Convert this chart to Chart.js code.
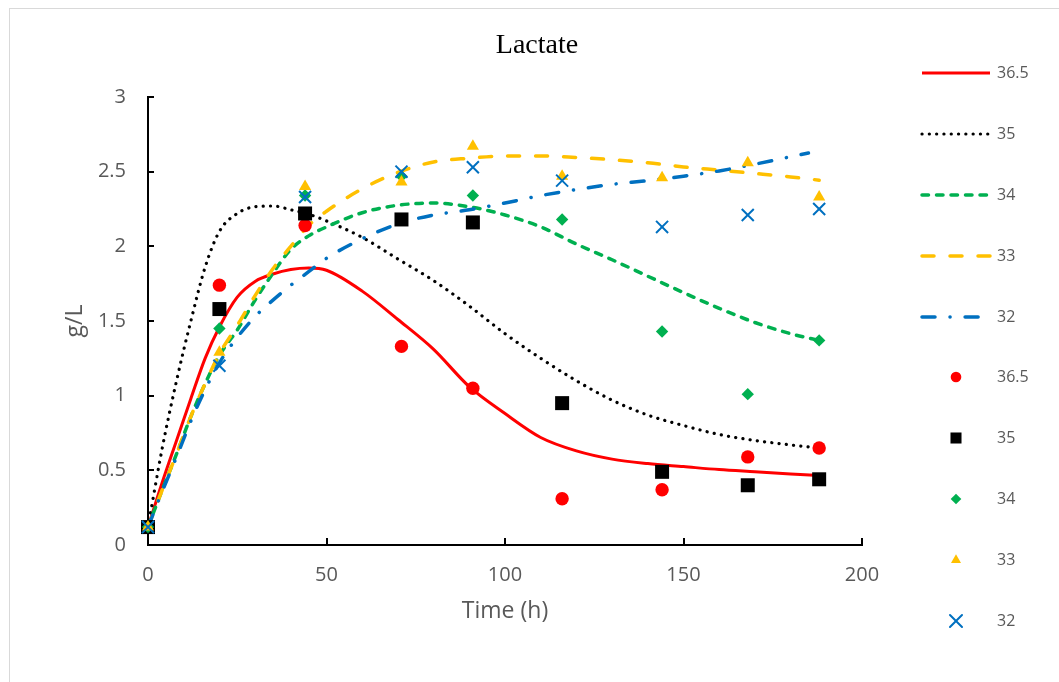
<!DOCTYPE html>
<html>
<head>
<meta charset="utf-8">
<script src="https://cdn.jsdelivr.net/npm/chart.js@4"></script>
<style>
  body { margin: 0; background: #fff; }
  canvas { display: block; }
</style>
</head>
<body>
<canvas id="lactateChart" width="1059" height="682"></canvas>
<script>
// measured lactate (g/L) per temperature
const hours = [0, 20, 44, 71, 91, 116, 144, 168, 188];
const lac365 = [0.12, 1.74, 2.14, 1.33, 1.05, 0.31, 0.37, 0.59, 0.65];
const lac35 = [0.12, 1.58, 2.22, 2.18, 2.16, 0.95, 0.49, 0.40, 0.44];
const lac34 = [0.12, 1.45, 2.34, 2.47, 2.34, 2.18, 1.43, 1.01, 1.37];
const lac33 = [0.12, 1.29, 2.40, 2.43, 2.67, 2.47, 2.46, 2.56, 2.33];
const lac32 = [0.12, 1.20, 2.33, 2.50, 2.53, 2.44, 2.13, 2.21, 2.25];

// model curves
const fitTime = [0, 4, 8, 12, 16, 20, 25, 30, 35, 40, 45, 50, 60, 70, 80, 90, 100, 110, 120, 130, 140, 150, 160, 170, 180, 188];
const fit365 = [0.12, 0.42, 0.70, 0.98, 1.25, 1.46, 1.66, 1.765, 1.815, 1.845, 1.855, 1.84, 1.70, 1.51, 1.31, 1.06, 0.88, 0.72, 0.63, 0.575, 0.545, 0.525, 0.505, 0.49, 0.475, 0.466];
const fit35 = [0.12, 0.65, 1.10, 1.50, 1.86, 2.10, 2.22, 2.265, 2.27, 2.245, 2.215, 2.17, 2.06, 1.915, 1.77, 1.60, 1.415, 1.25, 1.10, 0.97, 0.87, 0.80, 0.74, 0.70, 0.67, 0.65];
const fit34 = [0.12, 0.37, 0.61, 0.86, 1.08, 1.27, 1.44, 1.64, 1.82, 1.98, 2.07, 2.13, 2.225, 2.275, 2.29, 2.265, 2.21, 2.13, 2.015, 1.91, 1.80, 1.69, 1.585, 1.49, 1.415, 1.37];
const fit33 = [0.12, 0.37, 0.61, 0.86, 1.08, 1.28, 1.47, 1.67, 1.85, 2.00, 2.14, 2.235, 2.385, 2.495, 2.565, 2.59, 2.605, 2.605, 2.595, 2.58, 2.56, 2.532, 2.51, 2.488, 2.465, 2.443];
const fitTime32 = [0, 4, 8, 12, 16, 20, 25, 30, 35, 40, 45, 50, 60, 70, 80, 90, 100, 110, 120, 130, 140, 150, 160, 170, 180, 185];
const fit32 = [0.12, 0.36, 0.59, 0.83, 1.04, 1.22, 1.39, 1.53, 1.64, 1.74, 1.83, 1.92, 2.05, 2.15, 2.21, 2.245, 2.29, 2.34, 2.38, 2.415, 2.44, 2.47, 2.505, 2.55, 2.60, 2.625];

const labels = ["36.5", "35", "34", "33", "32"];
const colors = ["#FF0000", "#000000", "#00B050", "#FFC000", "#0070C0"];
const xTicks = [0, 50, 100, 150, 200];
const yTicks = [0, 0.5, 1, 1.5, 2, 2.5, 3];

const toXY = (xs, ys) => xs.map((x, i) => ({ x: x, y: ys[i] }));

const curves = [
  { data: toXY(fitTime, fit365), dash: [], width: 3, cap: "butt" },
  { data: toXY(fitTime, fit35), dash: [0.1, 7.2], width: 3.2, cap: "round" },
  { data: toXY(fitTime, fit34), dash: [6.5, 8], width: 3.5, cap: "round" },
  { data: toXY(fitTime, fit33), dash: [12, 16], width: 3.5, cap: "round" },
  { data: toXY(fitTime32, fit32), dash: [13, 15, 0.1, 15], width: 3.5, cap: "round" }
];
const marks = [
  { data: toXY(hours, lac365), style: "circle", r: 6.7, legendR: 5.3 },
  { data: toXY(hours, lac35), style: "rect", r: 9.9, legendR: 7.8 },
  { data: toXY(hours, lac34), style: "rectRot", r: 6.2, legendR: 5.3 },
  { data: toXY(hours, lac33), style: "triangle", r: 7, legendR: 5.8 },
  { data: toXY(hours, lac32), style: "crossRot", r: 8.5, legendR: 8.5 }
];

const datasets = [];
curves.forEach((c, i) => {
  datasets.push({
    label: labels[i],
    data: c.data,
    showLine: true,
    borderColor: colors[i],
    backgroundColor: colors[i],
    borderWidth: c.width,
    borderDash: c.dash,
    borderCapStyle: c.cap,
    pointRadius: 0,
    cubicInterpolationMode: "monotone",
    fill: false
  });
});
marks.forEach((m, i) => {
  datasets.push({
    label: labels[i],
    data: m.data,
    showLine: false,
    pointStyle: m.style,
    pointRadius: m.r,
    pointBackgroundColor: colors[i],
    pointBorderColor: colors[i],
    pointBorderWidth: m.style === "crossRot" ? 2 : 0,
    clip: false
  });
});
// later series drawn on top, as in the original
datasets.forEach((d, i) => { d.order = datasets.length - i; });

const textGray = "#595959";

const decorations = {
  id: "decorations",
  beforeDraw(chart) {
    const ctx = chart.ctx;
    ctx.save();
    ctx.fillStyle = "#fff";
    ctx.fillRect(0, 0, chart.width, chart.height);
    ctx.strokeStyle = "#d9d9d9";
    ctx.lineWidth = 1;
    ctx.strokeRect(9.5, 8.5, 1100, 700);

    ctx.fillStyle = "#000";
    ctx.font = "28px 'Liberation Serif'";
    ctx.textAlign = "center";
    ctx.textBaseline = "middle";
    ctx.fillText("Lactate", 537, 46);

    ctx.fillStyle = textGray;
    ctx.font = "23px 'Open Sans'";
    ctx.fillText("Time (h)", 505, 611);
    ctx.translate(75, 321);
    ctx.rotate(-Math.PI / 2);
    ctx.fillText("g/L", 0, 0);
    ctx.restore();
  },
  beforeDatasetsDraw(chart) {
    const ctx = chart.ctx;
    const { x, y } = chart.scales;
    const area = chart.chartArea;
    ctx.save();
    ctx.strokeStyle = "#000";
    ctx.lineWidth = 2;
    ctx.beginPath();
    yTicks.forEach(v => {
      const py = Math.round(y.getPixelForValue(v));
      ctx.moveTo(area.left, py);
      ctx.lineTo(area.left + 6, py);
    });
    xTicks.forEach(v => {
      const px = Math.round(x.getPixelForValue(v));
      ctx.moveTo(px, area.bottom);
      ctx.lineTo(px, area.bottom - 7);
    });
    ctx.stroke();
    ctx.restore();
  },
  afterDraw(chart) {
    const ctx = chart.ctx;
    ctx.save();
    ctx.font = "16px 'Open Sans'";
    ctx.textBaseline = "middle";
    ctx.textAlign = "left";
    curves.forEach((c, i) => {
      const py = 73 + 61 * i;
      ctx.strokeStyle = colors[i];
      ctx.lineWidth = c.width;
      ctx.lineCap = c.cap;
      ctx.setLineDash(c.dash);
      ctx.beginPath();
      ctx.moveTo(922, py);
      ctx.lineTo(990, py);
      ctx.stroke();
      ctx.setLineDash([]);
      ctx.fillStyle = textGray;
      ctx.fillText(labels[i], 997, py);
    });
    marks.forEach((m, i) => {
      const py = 377 + 61 * i;
      ctx.fillStyle = colors[i];
      ctx.strokeStyle = colors[i];
      ctx.lineWidth = 2;
      Chart.helpers.drawPoint(ctx, {
        pointStyle: m.style,
        radius: m.legendR,
        rotation: 0,
        borderWidth: m.style === "crossRot" ? 2 : 0
      }, 956, py);
      ctx.fillStyle = textGray;
      ctx.fillText(labels[i], 997, py);
    });
    ctx.restore();
  }
};

new Chart(document.getElementById("lactateChart"), {
  type: "scatter",
  data: { datasets: datasets },
  options: {
    responsive: false,
    animation: false,
    layout: { padding: { left: 0, right: 197, top: 97, bottom: 0 } },
    plugins: {
      legend: { display: false },
      title: { display: false },
      tooltip: { enabled: false }
    },
    scales: {
      x: {
        type: "linear",
        min: 0,
        max: 200,
        afterFit(scale) { scale.height = 137; },
        afterBuildTicks(scale) { scale.ticks = xTicks.map(v => ({ value: v })); },
        grid: { display: false, drawTicks: false },
        border: { display: true, color: "#000", width: 2 },
        ticks: { color: textGray, font: { family: "'Open Sans'", size: 20 }, padding: 18, maxRotation: 0, callback: v => String(v) }
      },
      y: {
        type: "linear",
        min: 0,
        max: 3,
        afterFit(scale) { scale.width = 148; },
        afterBuildTicks(scale) { scale.ticks = yTicks.map(v => ({ value: v })); },
        grid: { display: false, drawTicks: false },
        border: { display: true, color: "#000", width: 2 },
        ticks: { color: textGray, font: { family: "'Open Sans'", size: 20 }, padding: 22, callback: v => String(v) }
      }
    }
  },
  plugins: [decorations]
});
</script>
</body>
</html>
